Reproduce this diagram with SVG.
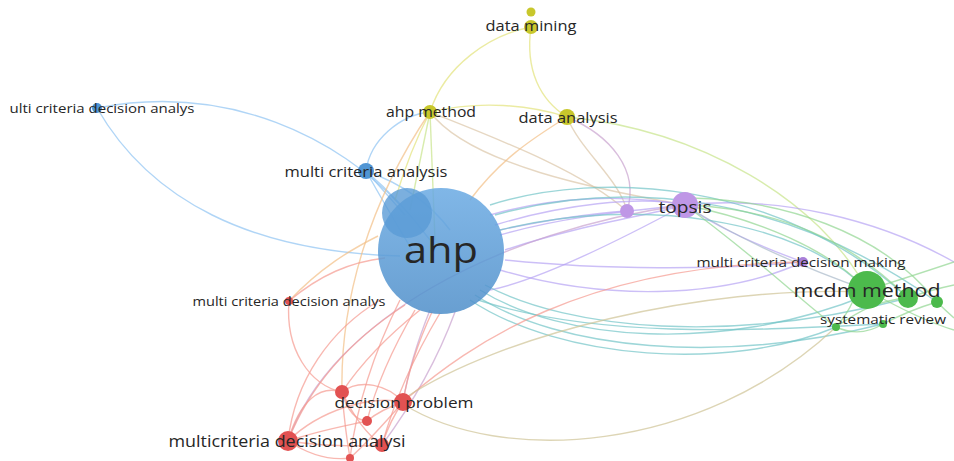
<svg xmlns="http://www.w3.org/2000/svg" width="954" height="461" viewBox="0 0 954 461">
<defs>
<linearGradient id="gAhp" x1="0" y1="0" x2="0" y2="1">
<stop offset="0" stop-color="#6aaae3"/>
<stop offset="1" stop-color="#4e8ec9"/>
</linearGradient>
<style>
path{fill:none;stroke-width:1.4;opacity:0.7}
.eb{stroke:#8fc3f2}
.ey{stroke:#e2e27a}
.er{stroke:#f59a90}
.ep{stroke:#b6a4f4}
.eg{stroke:#92d692}
.et{stroke:#74c4c8}
.eo{stroke:#f2bf86}
.en{stroke:#cfc395}
.eyg{stroke:#c8e48a}
.epr{stroke:#c9a3cf}
.epg{stroke:#a9b9c9}
.yp{stroke:#dcc6a8}
text{font-family:"Open Sans","Noto Sans","Liberation Sans",sans-serif;fill:#262626;text-anchor:middle}
.nb{fill:#4f95d4}
.ny{fill:#c8c72c}
.np{fill:#bf97e6}
.ng{fill:#4cba4c}
.nr{fill:#e25252}
</style>
</defs>
<rect width="954" height="461" fill="#ffffff"/>
<g id="connectors">
<path class="eb" d="M97,108 C230,82 340,140 400,205"/>
<path class="eb" d="M97,108 C150,200 250,252 400,256"/>
<path class="eb" d="M366,171 C370,140 400,115 430,112"/>
<path class="eb" d="M366,171 L405,215"/>
<path class="eb" d="M366,171 Q400,200 430,240"/>
<path class="eb" d="M366,171 Q385,205 412,250"/>
<path class="eb" d="M366,171 Q420,190 450,230"/>
<path class="ey" d="M531,27 C490,35 445,65 430,112"/>
<path class="ey" d="M531,27 C525,70 540,100 567,117"/>
<path class="eyg" d="M430,112 Q420,160 410,210"/>
<path class="eyg" d="M430,112 Q432,170 435,240"/>
<path class="ey" d="M430,112 Q410,150 395,200"/>
<path class="ey" d="M430,112 C480,100 530,105 567,117"/>
<path class="yp" d="M430,112 C500,140 580,170 627,211"/>
<path class="yp" d="M430,112 C470,165 600,190 685,205"/>
<path class="eo" d="M430,112 C370,200 340,300 342,392"/>
<path class="eo" d="M567,117 C530,140 500,160 470,200"/>
<path class="eyg" d="M567,117 C700,130 820,200 867,290"/>
<path class="yp" d="M567,117 C580,150 620,180 627,211"/>
<path class="epr" d="M567,117 C610,135 640,170 627,211"/>
<path class="eo" d="M289,301 C320,268 350,250 378,236"/>
<path class="ep" d="M490,215 C560,195 630,195 685,205"/>
<path class="ep" d="M495,225 C560,205 640,195 685,205"/>
<path class="ep" d="M500,235 C570,215 640,210 685,205"/>
<path class="ep" d="M505,250 C580,225 650,215 685,205"/>
<path class="ep" d="M500,230 Q570,215 627,211"/>
<path class="ep" d="M500,270 C600,300 720,300 803,262"/>
<path class="ep" d="M505,260 C600,270 720,270 803,262"/>
<path class="ep" d="M685,205 C720,230 770,250 803,262"/>
<path class="epg" d="M685,205 C740,240 810,270 867,290"/>
<path class="ep" d="M685,205 C780,195 880,220 954,262"/>
<path class="ep" d="M685,205 C620,240 540,280 490,290"/>
<path class="epr" d="M685,205 C500,230 330,320 288,441"/>
<path class="epr" d="M430,310 Q410,360 403,402"/>
<path class="epr" d="M455,312 Q430,380 382,445"/>
<path class="et" d="M480,290 C560,340 720,355 867,295"/>
<path class="et" d="M475,295 C560,350 720,365 883,324"/>
<path class="et" d="M485,285 C570,330 730,345 908,298"/>
<path class="et" d="M470,300 C560,360 730,372 836,327"/>
<path class="et" d="M478,300 C600,340 760,330 883,324"/>
<path class="et" d="M490,205 C600,170 780,180 908,298"/>
<path class="et" d="M495,215 C620,180 780,190 937,302"/>
<path class="et" d="M500,230 C640,195 800,220 867,290"/>
<path class="eg" d="M685,205 C760,220 830,250 867,290"/>
<path class="eg" d="M690,198 C780,200 880,230 937,302"/>
<path class="eg" d="M685,205 C760,260 800,300 836,327"/>
<path class="eg" d="M867,290 C900,280 930,270 954,262"/>
<path class="eg" d="M867,290 Q920,320 954,330"/>
<path class="eg" d="M908,298 Q930,290 954,285"/>
<path class="eg" d="M937,302 Q945,310 954,318"/>
<path class="eg" d="M836,327 C860,310 880,300 908,298"/>
<path class="eg" d="M836,327 Q860,338 883,324"/>
<path class="eg" d="M883,324 Q910,310 937,302"/>
<path class="eg" d="M836,327 C860,300 850,290 867,290"/>
<path class="eg" d="M690,205 C780,210 850,240 908,298"/>
<path class="er" d="M420,310 Q370,350 342,392"/>
<path class="er" d="M432,312 Q410,360 403,402"/>
<path class="er" d="M415,310 Q380,370 367,421"/>
<path class="er" d="M405,305 Q320,360 288,441"/>
<path class="er" d="M440,313 Q400,380 382,445"/>
<path class="er" d="M400,300 Q360,380 350,458"/>
<path class="er" d="M289,301 C320,275 350,262 385,258"/>
<path class="er" d="M289,301 C285,350 310,385 342,392"/>
<path class="er" d="M342,392 C360,378 388,385 403,402"/>
<path class="er" d="M288,441 C295,380 330,330 380,300"/>
<path class="er" d="M288,441 C300,400 320,385 342,392"/>
<path class="er" d="M288,441 C320,410 370,395 403,402"/>
<path class="er" d="M288,441 C320,430 350,425 367,421"/>
<path class="er" d="M288,441 Q335,448 382,445"/>
<path class="er" d="M288,441 Q320,462 350,458"/>
<path class="er" d="M403,402 Q390,420 382,445"/>
<path class="er" d="M403,402 Q380,410 367,421"/>
<path class="er" d="M403,402 Q370,440 350,458"/>
<path class="er" d="M342,392 Q350,420 367,421"/>
<path class="er" d="M342,392 Q360,430 382,445"/>
<path class="er" d="M342,392 Q345,430 350,458"/>
<path class="er" d="M405,400 C470,345 580,265 803,262"/>
<path class="en" d="M405,398 C500,335 700,285 867,292"/>
<path class="en" d="M403,404 C500,465 700,455 836,327"/>
</g>
<g id="node-ulti-criteria">
<circle class="nb" cx="97" cy="108" r="5"/>
<text x="102" y="113" font-size="13" textLength="185" lengthAdjust="spacingAndGlyphs">ulti criteria decision analys</text>
</g>
<g id="node-ahp">
<circle cx="441" cy="251" r="63" fill="url(#gAhp)" fill-opacity="0.85"/>
<circle cx="407" cy="213" r="25" fill="#5a9bd6" fill-opacity="0.8"/>
<text x="441" y="263" font-size="36" fill="#111" textLength="74" lengthAdjust="spacingAndGlyphs">ahp</text>
</g>
<g id="node-multi-criteria-analysis">
<circle class="nb" cx="366" cy="171" r="8"/>
<text x="366" y="177" font-size="14" textLength="163" lengthAdjust="spacingAndGlyphs">multi criteria analysis</text>
</g>
<g id="node-data-mining">
<circle class="ny" cx="531" cy="12" r="4.5"/>
<circle class="ny" cx="531" cy="27" r="7"/>
<text x="531" y="31" font-size="14" textLength="91" lengthAdjust="spacingAndGlyphs">data mining</text>
</g>
<g id="node-ahp-method">
<circle class="ny" cx="430" cy="112" r="7"/>
<text x="431" y="117" font-size="14" textLength="90" lengthAdjust="spacingAndGlyphs">ahp method</text>
</g>
<g id="node-data-analysis">
<circle class="ny" cx="567" cy="117" r="8"/>
<text x="568" y="123" font-size="14" textLength="99" lengthAdjust="spacingAndGlyphs">data analysis</text>
</g>
<g id="node-topsis">
<circle class="np" cx="627" cy="211" r="7"/>
<circle class="np" cx="685" cy="205" r="13"/>
<text x="685" y="213" font-size="17" textLength="53" lengthAdjust="spacingAndGlyphs">topsis</text>
</g>
<g id="node-mcdm-making">
<circle fill="#a97fd8" cx="803" cy="262" r="5"/>
<text x="801" y="267" font-size="13" textLength="209" lengthAdjust="spacingAndGlyphs">multi criteria decision making</text>
</g>
<g id="node-mcdm-method">
<circle class="ng" cx="867" cy="290" r="19"/>
<circle class="ng" cx="908" cy="298" r="10"/>
<circle class="ng" cx="937" cy="302" r="6"/>
<text x="867" y="297" font-size="19" textLength="147" lengthAdjust="spacingAndGlyphs">mcdm method</text>
</g>
<g id="node-systematic-review">
<circle class="ng" cx="836" cy="327" r="4"/>
<circle class="ng" cx="883" cy="324" r="4"/>
<text x="883" y="324" font-size="13" textLength="126" lengthAdjust="spacingAndGlyphs">systematic review</text>
</g>
<g id="node-mcda-red">
<circle class="nr" cx="289" cy="301" r="4"/>
<text x="289" y="306" font-size="12.5" textLength="193" lengthAdjust="spacingAndGlyphs">multi criteria decision analys</text>
</g>
<g id="node-decision-problem">
<circle class="nr" cx="342" cy="392" r="7"/>
<circle class="nr" cx="367" cy="421" r="5"/>
<circle class="nr" cx="403" cy="402" r="9"/>
<text x="404" y="408" font-size="15" textLength="139" lengthAdjust="spacingAndGlyphs">decision problem</text>
</g>
<g id="node-multicriteria-decision-analysi">
<circle class="nr" cx="288" cy="441" r="10"/>
<circle class="nr" cx="382" cy="445" r="7"/>
<circle class="nr" cx="350" cy="458" r="4"/>
<text x="287" y="447" font-size="15.5" textLength="237" lengthAdjust="spacingAndGlyphs">multicriteria decision analysi</text>
</g>
</svg>
